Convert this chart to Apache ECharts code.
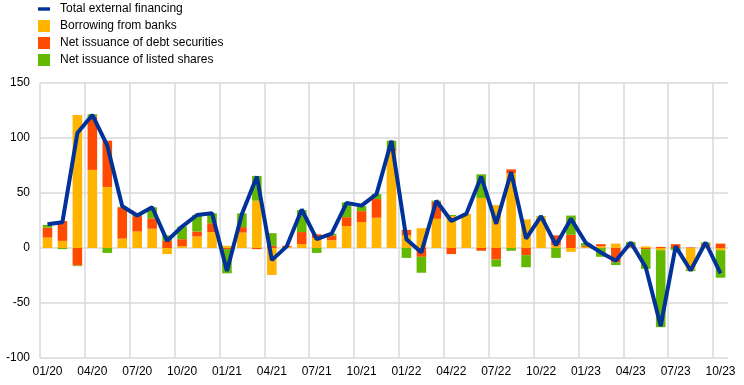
<!DOCTYPE html>
<html>
<head>
<meta charset="utf-8">
<script src="https://cdn.jsdelivr.net/npm/echarts@6/dist/echarts.min.js"></script>
<style>
html,body{margin:0;padding:0;background:#fff;}
#c{width:744px;height:385px;}
</style>
</head>
<body>
<div id="c"></div>
<script>
const categories = ["01/20","02/20","03/20","04/20","05/20","06/20","07/20","08/20","09/20","10/20","11/20","12/20",
"01/21","02/21","03/21","04/21","05/21","06/21","07/21","08/21","09/21","10/21","11/21","12/21",
"01/22","02/22","03/22","04/22","05/22","06/22","07/22","08/22","09/22","10/22","11/22","12/22",
"01/23","02/23","03/23","04/23","05/23","06/23","07/23","08/23","09/23","10/23"];

const banks = [9.5, 6.5, 121, 71, 55.5, 8.5, 15, 17.5, -5.5, 1.5, 10.5, 14.5,
  2, 14, 43, -24.5, 1, 3.5, 9, 7, 20, 23.5, 27.5, 88,
  11.5, 18, 26.5, 29, 31, 45.5, 39, 68, 26, 28.5, 2.5, -3.5,
  1, 1.5, 4, 0.5, 1.5, -2, 0, -19.5, 1.5, -2];

const debt = [9, 18, -16, 48.5, 42, 28.5, 14, 9.5, 6.5, 6.5, 4.5, 8,
  -1, 5, -1, 2, 1, 11, 3.5, 4.5, 8, 10, 17, 2,
  5, -8, 15.5, -5.5, 0, -2.5, -10.5, 3.5, -6.5, 0, 9, 12,
  1, 2, -13, 2, -1, 1, 3.5, 0.5, 2, 4];

const shares = [2.5, -1, -0.5, 2, -4.5, 0.5, 1.5, 10, 5, 11.5, 15, 9,
  -22, 12.5, 22.5, 11.5, 0, 20, -4.5, 1.5, 13.5, 4.5, 4.5, 7.5,
  -9, -14.5, 1, 1, 0, 21.5, -6.5, -2.5, -11, 0.5, -9, 17.5,
  2.5, -8, -2.5, 3, -18, -70, -2, -1.5, 1.5, -25];

const total = [21.5, 23.5, 104.5, 121, 93, 38, 29.5, 37, 6.5, 19.5, 30, 31.5,
  -21, 31, 65, -11, 1.5, 35, 8, 13, 41, 38.5, 49, 97.5,
  8, -4, 43, 24.5, 31, 65, 22, 69, 8.5, 29, 2.5, 26.5,
  4.5, -4, -11.5, 5, -17.5, -71, 1.5, -20.5, 5, -23];

const yTicks = { min: -100, max: 150, interval: 50 };

const FONT = "'Liberation Sans', Arial, sans-serif";
const GRID = '#d9d9d9';
// quarterly split lines (16) plus the trailing band edge, which the reference leaves undrawn
const xSplitColors = [];
for (let i = 0; i < 16; i++) xSplitColors.push(GRID);
xSplitColors.push('rgba(0,0,0,0)');

const chart = echarts.init(document.getElementById('c'), null, { renderer: 'canvas' });
chart.setOption({
  animation: false,
  backgroundColor: '#ffffff',
  textStyle: { fontFamily: FONT },
  legend: {
    orient: 'vertical',
    left: 33,
    top: -2,
    itemWidth: 12,
    itemHeight: 12,
    itemGap: 5,
    textStyle: { fontFamily: FONT, fontSize: 12, color: '#000', padding: [0, 0, 0, 5] },
    data: [
      { name: 'Total external financing', icon: 'path://M0 0H14V4H0Z' },
      { name: 'Borrowing from banks', icon: 'rect' },
      { name: 'Net issuance of debt securities', icon: 'rect' },
      { name: 'Net issuance of listed shares', icon: 'rect' }
    ]
  },
  grid: { left: 40, right: 16, top: 83, bottom: 27, containLabel: false },
  xAxis: {
    type: 'category',
    data: categories,
    boundaryGap: true,
    axisLine: { show: false },
    axisTick: { show: false },
    axisLabel: { interval: 2, color: '#000', fontSize: 12, fontFamily: FONT, margin: 8 },
    splitLine: { show: true, interval: 2, lineStyle: { color: xSplitColors, width: 1.5 } }
  },
  yAxis: {
    type: 'value',
    min: yTicks.min,
    max: yTicks.max,
    interval: yTicks.interval,
    axisLine: { show: false },
    axisTick: { show: false },
    axisLabel: { color: '#000', fontSize: 12, fontFamily: FONT, margin: 10 },
    splitLine: { show: true, lineStyle: { color: GRID, width: 1.5 } }
  },
  series: [
    { name: 'Borrowing from banks', type: 'bar', stack: 'tot', data: banks, barWidth: '64%',
      itemStyle: { color: '#FFB400' } },
    { name: 'Net issuance of debt securities', type: 'bar', stack: 'tot', data: debt,
      itemStyle: { color: '#FF4B00' } },
    { name: 'Net issuance of listed shares', type: 'bar', stack: 'tot', data: shares,
      itemStyle: { color: '#65B800' } },
    { name: 'Total external financing', type: 'line', data: total, symbol: 'none', z: 10,
      lineStyle: { color: '#003299', width: 4 }, itemStyle: { color: '#003299' } }
  ]
});
</script>
</body>
</html>
